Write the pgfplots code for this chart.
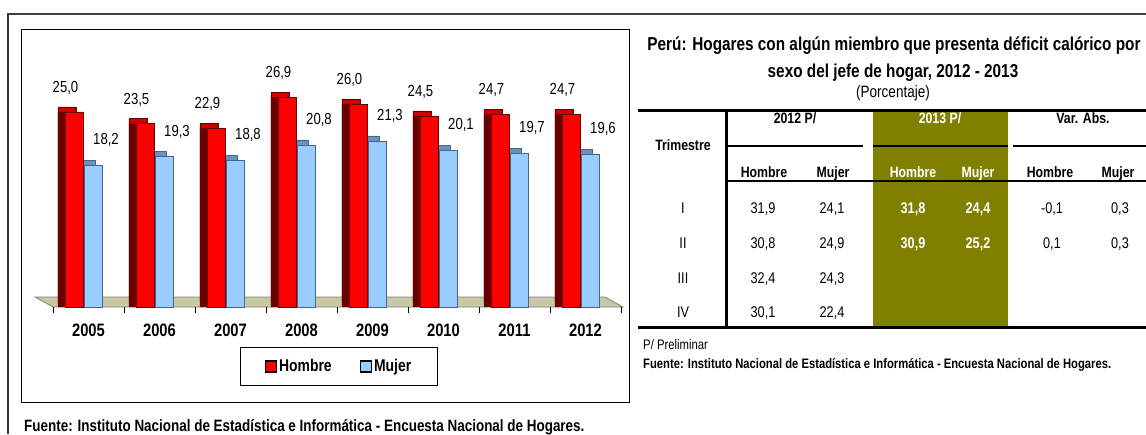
\documentclass[border=0pt]{standalone}
\usepackage{fontspec}
\setmainfont{Liberation Sans}[FakeStretch=0.82]
\usepackage{pgfplots}
\usepackage{pgfplotstable}
\pgfplotsset{compat=1.18}
\definecolor{olive2}{RGB}{128,128,0}
\definecolor{redfront}{RGB}{255,0,0}
\definecolor{redtop}{RGB}{205,0,0}
\definecolor{redside}{RGB}{105,0,0}
\definecolor{bluefront}{RGB}{153,204,255}
\definecolor{bluetop}{RGB}{105,145,190}
\definecolor{blueside}{RGB}{70,100,140}
\definecolor{floorc}{RGB}{200,200,165}
\pgfplotstableread{
x h m
0 25.0 18.2
1 23.5 19.3
2 22.9 18.8
3 26.9 20.8
4 26.0 21.3
5 24.5 20.1
6 24.7 19.7
7 24.7 19.6
}\datatable
\newcommand\fz[1]{\fontsize{#1}{#1}\selectfont}
\begin{document}
\begin{tikzpicture}
\useasboundingbox (0,0) rectangle (1146pt,-434pt);
\begin{scope}[x=1pt,y=-1pt]
% outer lines
\draw[line width=2pt, black!75] (7,14) -- (1146,14);
\draw[line width=1.6pt, black!80] (8,14) -- (8,434);
% inner frame
\draw[line width=1pt] (21,29) rectangle (629,402);
% floor
\filldraw[fill=floorc, draw=gray, line width=0.8pt] (35,297) -- (605,297) -- (623,307) -- (53,307) -- cycle;
\node[anchor=base west, inner sep=0, font=\fz{16.4}\bfseries] at (24,431) {Fuente: Instituto Nacional de Estadística e Informática - Encuesta Nacional de Hogares.};
% right panel
\fill[olive2] (873,110) rectangle (1008,327);
\draw[line width=3pt] (638,110) -- (1146,110);
\draw[line width=3pt] (638,327) -- (1146,327);
\draw[line width=3pt] (726,110) -- (726,327);
\draw[line width=2.5pt] (726,181) -- (1146,181);
\draw[line width=2pt] (726,146) -- (863,146);
\draw[line width=2pt] (873,146) -- (1008,146);
\draw[line width=2pt] (1013,146) -- (1146,146);
\node[anchor=base, font=\fz{18.7}\bfseries] at (894,50.5) {Perú: Hogares con algún miembro que presenta déficit calórico por};
\node[anchor=base, font=\fz{18.7}\bfseries] at (893,77.5) {sexo del jefe de hogar, 2012 - 2013};
\node[anchor=base, font=\fz{16.5}] at (893,97.5) {(Porcentaje)};
\begin{scope}[every node/.style={anchor=base, font=\fz{15}\bfseries}]
\node at (683,150.5) {Trimestre};
\node at (795,123.5) {2012 P/};
\node[white] at (940,123.5) {2013 P/};
\node at (1083,123.5) {Var. Abs.};
\node at (764,177.5) {Hombre};
\node at (833,177.5) {Mujer};
\node[white] at (913,177.5) {Hombre};
\node[white] at (978,177.5) {Mujer};
\node at (1050,177.5) {Hombre};
\node at (1118,177.5) {Mujer};
\end{scope}
\begin{scope}[every node/.style={anchor=base, font=\fz{15.5}}]
\node at (683,213.5) {I};
\node at (683,248.5) {II};
\node at (683,283.5) {III};
\node at (683,317.5) {IV};
\node at (763,213.5) {31,9};
\node at (832,213.5) {24,1};
\node at (763,248.5) {30,8};
\node at (832,248.5) {24,9};
\node at (763,283.5) {32,4};
\node at (832,283.5) {24,3};
\node at (763,317.5) {30,1};
\node at (832,317.5) {22,4};
\node[white,font=\fz{15.5}\bfseries] at (913,213.5) {31,8};
\node[white,font=\fz{15.5}\bfseries] at (978,213.5) {24,4};
\node[white,font=\fz{15.5}\bfseries] at (913,248.5) {30,9};
\node[white,font=\fz{15.5}\bfseries] at (978,248.5) {25,2};
\node at (1052,213.5) {-0,1};
\node at (1120,213.5) {0,3};
\node at (1052,248.5) {0,1};
\node at (1120,248.5) {0,3};
\end{scope}
\node[anchor=base west, inner sep=0, font=\fz{13.8}] at (643,349) {P/ Preliminar};
\node[anchor=base west, inner sep=0, font=\fz{13.7}\bfseries] at (643,368) {Fuente: Instituto Nacional de Estadística e Informática - Encuesta Nacional de Hogares.};
\end{scope}
\begin{axis}[
  at={(53pt,-307pt)}, anchor=south west,
  scale only axis, width=568pt, height=278pt,
  xmin=-0.5, xmax=7.5, ymin=0, ymax=35.64,
  clip=false,
  axis x line*=bottom, axis y line=none,
  axis line style={draw=none},
  ytick=\empty,
  xtick={0,...,7},
  xticklabels={\textbf{2005},\textbf{2006},\textbf{2007},\textbf{2008},\textbf{2009},\textbf{2010},\textbf{2011},\textbf{2012}},
  xticklabel style={font=\fz{18}\bfseries, yshift=-13pt},
  major tick length=0pt,
  minor xtick={-0.5,0.5,...,7.5},
  minor tick length=6pt,
  tick align=outside,
  minor tick style={black, line width=0.8pt},
  /pgf/number format/.cd, use comma, fixed, fixed zerofill, precision=1, assume math mode=true,
  /pgfplots/.cd,
  bar width=18pt,
  legend style={at={(axis description cs:0.5035,-0.214)}, anchor=center, draw=black, line width=0.8pt,
    font=\fz{17}\bfseries, legend columns=2, inner xsep=24.5pt, inner ysep=10pt,
    /tikz/every even column/.append style={column sep=26pt}},
]
% depth (top faces)
\addplot[ybar, bar shift=-2pt, fill=bluetop, draw=blueside, line width=0.4pt, yshift=5pt, forget plot] table[x=x,y=m]{\datatable};
\addplot[ybar, bar shift=-21.5pt, fill=redtop, draw=redside, line width=0.4pt, yshift=5pt, forget plot] table[x=x,y=h]{\datatable};
% side faces
\addplot[ybar, bar shift=-2pt, fill=blueside, draw=none, forget plot] table[x=x,y=m]{\datatable};
\addplot[ybar, bar shift=-21.5pt, fill=redside, draw=none, forget plot] table[x=x,y=h]{\datatable};
% front faces
\addplot[ybar, bar shift=-14.5pt, fill=redfront, draw=redside, line width=0.5pt, forget plot,
  nodes near coords, every node near coord/.append style={font=\fz{16}, anchor=center, inner sep=0pt, xshift=-23pt, yshift=24pt, black}] table[x=x,y=h]{\datatable};
\addplot[ybar, bar shift=5pt, fill=bluefront, draw=blueside, line width=0.5pt, forget plot,
  nodes near coords, every node near coord/.append style={font=\fz{16}, anchor=center, inner sep=0pt, xshift=17.5pt, yshift=25pt, black}] table[x=x,y=m]{\datatable};
\addlegendimage{legend image code/.code={\draw[fill=redfront, draw=black, line width=1.3pt] (0pt,-5.5pt) rectangle (11pt,5.5pt);}}
\addlegendentry{Hombre}
\addlegendimage{legend image code/.code={\draw[fill=bluefront, draw=black, line width=1.3pt] (0pt,-5.5pt) rectangle (11pt,5.5pt);}}
\addlegendentry{Mujer}
\end{axis}
\end{tikzpicture}
\end{document}
